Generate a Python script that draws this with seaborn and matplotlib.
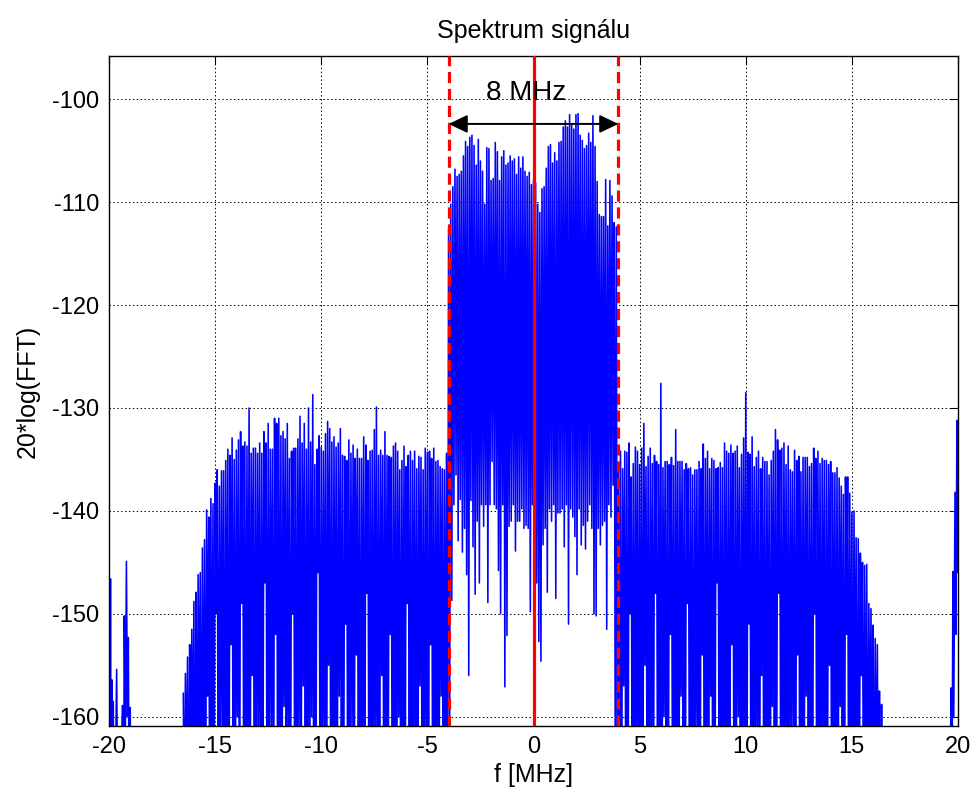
import numpy as np
import matplotlib
matplotlib.use("Agg")
import matplotlib.pyplot as plt
import seaborn as sns
import pandas as pd

# ---------------- data ----------------
band_f_start = -16.5      # MHz, first spectral line of the occupied band
band_f_step = 0.1         # MHz between spectral lines

# upper ends of the spectral lines (dB), left adjacent channel  -16.5 .. -4.1 MHz
left_peaks_db = [
    -157.7, -155.8, -154.2, -153.0, -151.5, -148.8, -147.9, -146.2, -146.0, -143.6,
    -142.8, -139.9, -140.6, -138.8, -139.3, -137.3, -136.0, -137.6, -136.1, -136.1,
    -135.1, -134.0, -134.6, -132.9, -135.0, -134.1, -133.1, -132.3, -133.7, -133.3,
    -133.7, -130.0, -134.4, -133.9, -133.9, -134.4, -133.4, -134.4, -132.3, -133.4,
    -131.5, -134.0, -134.0, -131.0, -131.5, -131.0, -132.7, -132.3, -133.0, -131.5,
    -134.9, -134.2, -133.9, -133.9, -133.0, -130.8, -133.4, -131.5, -134.0, -130.0,
    -133.3, -128.7, -135.5, -134.0, -132.7, -133.8, -134.2, -132.5, -131.3, -132.0,
    -133.3, -132.8, -133.8, -133.4, -132.0, -134.6, -134.7, -135.1, -133.1, -134.4,
    -133.6, -134.9, -134.0, -134.9, -134.9, -132.8, -133.6, -135.1, -134.2, -134.1,
    -132.1, -129.9, -134.6, -134.1, -134.6, -132.3, -134.6, -134.7, -134.8, -133.7,
    -133.4, -134.2, -136.0, -135.1, -133.7, -135.7, -134.6, -134.2, -135.1, -134.2,
    -135.9, -134.7, -134.8, -136.0, -133.9, -134.3, -134.2, -134.9, -133.9, -135.2,
    -135.1, -135.7, -135.9, -136.0, -134.4,
]
# main channel  -4.0 .. 3.9 MHz
main_peaks_db = [
    -112.5, -110.2, -108.5, -106.8, -107.5, -107.3, -107.0, -105.5, -104.1, -104.6,
    -103.7, -103.5, -104.5, -106.4, -103.9, -106.0, -107.0, -110.2, -104.7, -104.8,
    -107.9, -107.7, -104.2, -105.1, -107.9, -105.6, -105.0, -106.4, -106.2, -105.5,
    -106.0, -105.8, -107.3, -105.6, -106.7, -105.6, -107.0, -107.5, -107.1, -108.3,
    -107.9, -108.1, -110.2, -111.0, -108.7, -108.5, -106.7, -104.6, -104.4, -106.2,
    -105.2, -106.0, -104.2, -104.1, -102.7, -102.1, -102.7, -101.5, -102.5, -102.9,
    -101.5, -101.4, -103.5, -104.0, -104.8, -104.5, -103.3, -104.2, -101.6, -104.6,
    -108.0, -111.2, -111.4, -111.4, -107.8, -112.3, -107.9, -109.4, -112.0, -112.4,
]
# right adjacent channel  4.0 .. 16.4 MHz
right_peaks_db = [
    -135.4, -134.2, -135.9, -134.2, -134.3, -133.4, -136.7, -135.4, -133.8, -134.2,
    -135.5, -133.9, -131.5, -135.7, -134.7, -133.9, -135.4, -134.6, -135.2, -135.5,
    -127.6, -135.8, -135.2, -135.2, -135.5, -134.8, -135.6, -132.1, -135.2, -135.2,
    -135.2, -136.0, -135.4, -135.9, -135.8, -136.5, -136.0, -136.0, -135.2, -135.9,
    -133.5, -134.9, -134.2, -135.9, -134.9, -135.1, -135.9, -135.8, -135.3, -135.8,
    -133.4, -134.2, -134.4, -133.6, -134.4, -134.2, -133.7, -135.8, -134.5, -132.9,
    -128.5, -134.3, -134.5, -132.8, -135.7, -134.8, -134.2, -135.9, -134.8, -135.2,
    -135.2, -136.5, -135.1, -134.2, -132.1, -133.1, -134.1, -133.9, -133.4, -135.5,
    -133.7, -136.0, -136.2, -134.1, -135.1, -134.7, -136.2, -134.8, -134.8, -134.8,
    -135.7, -135.4, -133.9, -134.9, -134.2, -135.4, -134.9, -135.1, -135.1, -135.5,
    -135.2, -136.3, -136.3, -135.8, -136.8, -137.6, -138.4, -136.7, -136.7, -138.3,
    -140.1, -140.0, -142.6, -142.7, -144.1, -145.0, -145.3, -145.2, -149.0, -149.5,
    -151.1, -152.4, -153.0, -157.5, -158.8,
]

# lower ends (dB) between neighbouring lines (half a step to the right)
left_troughs_db = [
    -172, -168, -175, -170, -166, -178, -171, -163, -176, -169,
    -174, -158, -177, -167, -172, -150, -175, -168, -162, -179,
    -165, -176, -153, -171, -174, -160, -178, -149, -170, -175,
    -166, -173, -156, -177, -169, -162, -175, -171, -147, -176,
    -170, -161, -178, -152, -174, -168, -176, -159, -172, -165,
    -177, -150, -170, -175, -163, -171, -157, -178, -166, -173,
    -160, -175, -168, -146, -177, -170, -164, -175, -155, -172,
    -176, -166, -173, -158, -170, -178, -151, -174, -169, -162,
    -175, -154, -171, -177, -165, -172, -148, -176, -168, -174,
    -163, -177, -170, -156, -175, -167, -173, -152, -178, -169,
    -171, -160, -176, -168, -174, -149, -170, -177, -164, -172,
    -176, -157, -170, -174, -162, -178, -153, -171, -175, -166,
    -170, -158, -175, -168, -174,
]
main_troughs_db = [
    -160.0, -148.7, -139.4, -136.5, -142.9, -138.9, -144.0, -141.7, -146.2, -156.0,
    -139.0, -143.5, -148.1, -141.0, -147.0, -139.4, -141.5, -139.4, -148.9, -139.4,
    -135.2, -139.4, -139.8, -145.8, -150.0, -139.4, -157.1, -152.1, -141.5, -141.0,
    -139.4, -143.9, -141.0, -141.0, -139.8, -141.7, -141.4, -141.7, -149.8, -139.4,
    -150.6, -147.0, -152.7, -154.6, -143.3, -141.7, -147.9, -139.8, -141.0, -139.4,
    -148.5, -140.2, -140.2, -139.8, -143.5, -139.4, -151.0, -139.8, -140.6, -142.5,
    -146.2, -139.8, -143.3, -141.4, -143.7, -141.0, -139.4, -141.7, -150.0, -150.2,
    -141.7, -143.3, -141.4, -141.0, -151.5, -139.4, -140.6, -137.5, -163.0, -168.0,
]
right_troughs_db = [
    -168, -175, -157, -172, -178, -150, -170, -176, -163, -174,
    -171, -176, -155, -168, -177, -162, -173, -148, -175, -170,
    -177, -160, -172, -175, -152, -169, -178, -166, -174, -158,
    -170, -176, -149, -173, -167, -177, -161, -172, -175, -154,
    -176, -165, -171, -158, -178, -170, -147, -174, -168, -177,
    -163, -175, -170, -153, -176, -172, -160, -178, -166, -171,
    -174, -151, -177, -169, -173, -162, -176, -156, -170, -175,
    -168, -177, -159, -172, -175, -148, -171, -178, -165, -173,
    -176, -161, -170, -175, -154, -177, -169, -172, -158, -176,
    -171, -174, -150, -178, -167, -173, -163, -176, -170, -155,
    -177, -166, -172, -175, -159, -170, -178, -152, -173, -168,
    -175, -162, -177, -170, -156, -174, -171, -178, -165, -172,
    -176, -169, -174, -178, -180,
]

# residual lines at the band edges (aliased image of the spectrum)
edge_left_f = [-20.0, -19.97, -19.93, -19.9, -19.87, -19.83, -19.8, -19.75, -19.64, -19.55,
               -19.37, -19.32, -19.28, -19.23, -19.18, -19.13, -19.09, -19.05, -19.0, -18.95]
edge_left_db = [-146.4, -175, -146.6, -170, -156.4, -175, -158.5, -175, -155.4, -178,
                -158.9, -175, -150.2, -162, -144.9, -160, -152.3, -170, -159.1, -180]
edge_right_f = [19.6, 19.67, 19.71, 19.76, 19.8, 19.86, 19.9, 19.95, 19.98, 20.0]
edge_right_db = [-180, -157.2, -175, -145.9, -160, -138.2, -152, -131.2, -146, -140]

channel_edges = [-4, 4]    # MHz (dashed red)
channel_centre = 0         # MHz (solid red)
bandwidth_label = "8 MHz"

title = "Spektrum signálu"
xlabel = "f [MHz]"
ylabel = "20*log(FFT)"
xticks = [-20, -15, -10, -5, 0, 5, 10, 15, 20]
yticks = [-160, -150, -140, -130, -120, -110, -100]

# ---------------- build the line ----------------
peaks = np.array(left_peaks_db + main_peaks_db + right_peaks_db)
troughs = np.array(left_troughs_db + main_troughs_db + right_troughs_db)
line_f = band_f_start + band_f_step * np.arange(len(peaks))
f_all = np.column_stack([line_f, line_f + band_f_step / 2]).ravel()
db_all = np.column_stack([peaks, troughs]).ravel()

spec = pd.DataFrame({"f": np.concatenate([edge_left_f, f_all, edge_right_f]),
                     "db": np.concatenate([edge_left_db, db_all, edge_right_db]),
                     "seg": (["a"] * len(edge_left_f) + ["b"] * len(f_all)
                             + ["c"] * len(edge_right_f))})

# ---------------- style ----------------
sns.set_style("white")
plt.rcParams["font.family"] = ["Liberation Sans", "DejaVu Sans"]
plt.rcParams["axes.unicode_minus"] = False

fig = plt.figure(figsize=(9.73, 7.92), dpi=100)
ax = fig.add_axes([109 / 973, 1 - 726 / 792, (958 - 109) / 973, (726 - 56) / 792])

sns.lineplot(data=spec, x="f", y="db", units="seg", estimator=None, sort=False,
             color="#0000ff", linewidth=1.15, ax=ax, legend=False, zorder=2)

ax.set_xlim(-20, 20)
ax.set_ylim(-160.9, -95.8)
ax.set_xticks(xticks)
ax.set_yticks(yticks)
ax.grid(True, color="black", linestyle=(0, (1.5, 2.5)), linewidth=0.7, zorder=0)
ax.set_axisbelow(True)
for s in ax.spines.values():
    s.set_color("black")
    s.set_linewidth(1.0)
ax.tick_params(direction="in", length=6, width=0.8, top=True, right=True,
               labelsize=17, colors="black", pad=7)

for fx in channel_edges:
    ax.axvline(fx, color="#ff0000", linestyle=(0, (3.5, 1.8)), linewidth=2.3, zorder=4)
ax.axvline(channel_centre, color="#ff0000", linewidth=2.3, zorder=4)

ax.annotate("", xy=(channel_edges[0], -102.4), xytext=(channel_edges[1], -102.4),
            arrowprops=dict(arrowstyle="<|-|>,head_length=1.15,head_width=0.55",
                            mutation_scale=10, color="black", lw=1.4,
                            shrinkA=0, shrinkB=0), zorder=5)
ax.text(-0.33, -100.1, bandwidth_label, ha="center", va="baseline", fontsize=20,
        color="black", zorder=6)

ax.set_title(title, fontsize=18, pad=13, color="black")
ax.set_xlabel(xlabel, fontsize=18, labelpad=4, color="black")
ax.set_ylabel(ylabel, fontsize=18, labelpad=9, color="black")

fig.savefig("out.png", dpi=100, facecolor="white")
